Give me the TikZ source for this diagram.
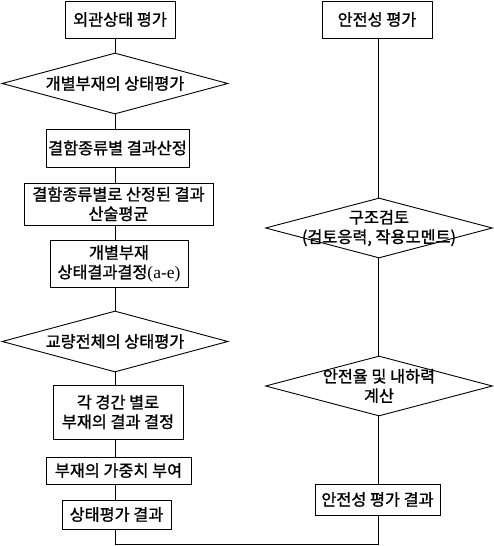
\documentclass[tikz,border=0pt]{standalone}
\usepackage{fontspec}
\newfontfamily\kr[FakeBold=1.2]{Noto Sans CJK KR}
\newfontfamily\tms{Liberation Serif}
\usetikzlibrary{shapes.geometric}
\begin{document}
\begin{tikzpicture}[x=1pt,y=-1pt,
  every node/.style={font=\kr\fontsize{16.3}{19.5}\selectfont, align=center, inner sep=0pt},
  box/.style={draw, line width=0.9pt, rectangle},
  dia/.style={draw, line width=0.9pt, diamond, minimum width=226pt, minimum height=61pt},
  conn/.style={line width=0.9pt}]
\useasboundingbox (0,0) rectangle (493,546);
\coordinate (lx) at (115,0);
\coordinate (rx) at (378,0);
% left column
\node[box, minimum width=110pt, minimum height=37pt] (b1) at (120,19.5) {외관상태 평가};
\node[dia] (d1) at (115,83.5) {};
\node (t1) at (d1.center) {개별부재의 상태평가};
\node[box, minimum width=143pt, minimum height=38pt] (b2) at (117.5,148) {결함종류별 결과산정};
\node[box, minimum width=189pt, minimum height=42pt] (b3) at (118.5,204) {결함종류별로 산정된 결과\\산술평균};
\node[box, minimum width=138pt, minimum height=47pt] (b4) at (119,263.5) {개별부재\\상태결과결정{\tms\fontsize{17.5}{19.5}\selectfont(a-e)}};
\node[dia] (d2) at (115,341.5) {};
\node (t2) at (d2.center) {교량전체의 상태평가};
\node[box, minimum width=130pt, minimum height=54pt] (b5) at (118,412) {각 경간 별로\\부재의 결과 결정};
\node[box, minimum width=145pt, minimum height=27pt] (b6) at (118.5,470.5) {부재의 가중치 부여};
\node[box, minimum width=109pt, minimum height=29pt] (b7) at (116.5,514.5) {상태평가 결과};
% right column
\node[box, minimum width=110pt, minimum height=37pt] (r1) at (377,19.5) {안전성 평가};
\node[dia, minimum width=227pt, minimum height=60pt] (rd1) at (379,228) {};
\node (rt1) at (rd1.center) {구조검토\\(검토응력, 작용모멘트)};
\node[dia, minimum width=227pt, minimum height=60pt] (rd2) at (379,386) {};
\node (rt2) at (rd2.center) {안전율 및 내하력\\계산};
\node[box, minimum width=125pt, minimum height=31pt] (r2) at (377.5,499.5) {안전성 평가 결과};
\coordinate (bot) at (115,544);
% connectors
\draw[conn] (b1.south -| lx) -- (d1.north -| lx);
\draw[conn] (d1.south -| lx) -- (b2.north -| lx);
\draw[conn] (b2.south -| lx) -- (b3.north -| lx);
\draw[conn] (b3.south -| lx) -- (b4.north -| lx);
\draw[conn] (b4.south -| lx) -- (d2.north -| lx);
\draw[conn] (d2.south -| lx) -- (b5.north -| lx);
\draw[conn] (b5.south -| lx) -- (b6.north -| lx);
\draw[conn] (b6.south -| lx) -- (b7.north -| lx);
\draw[conn] (r1.south -| rx) -- (rd1.north -| rx);
\draw[conn] (rd1.south -| rx) -- (rd2.north -| rx);
\draw[conn] (rd2.south -| rx) -- (r2.north -| rx);
\draw[conn] (b7.south -| lx) -- (bot) -- (bot -| rx) -- (r2.south -| rx);
\end{tikzpicture}
\end{document}
